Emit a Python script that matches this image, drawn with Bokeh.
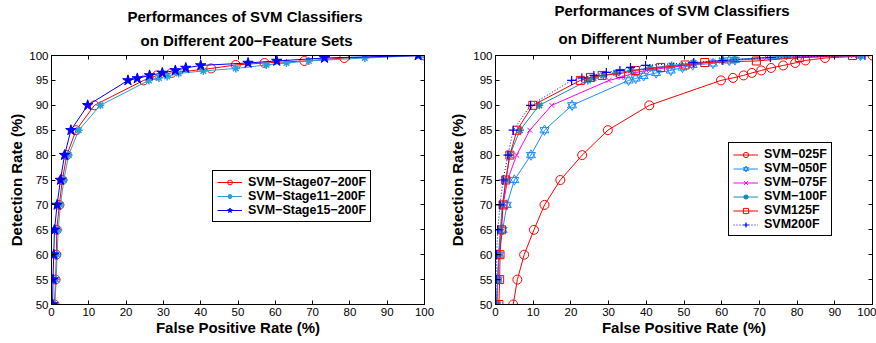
from bokeh.plotting import figure
from bokeh.models import Range1d, LinearAxis, FixedTicker, Legend, LegendItem, Title
from bokeh.layouts import row
from bokeh.embed import file_html
from bokeh.resources import INLINE

FONT = "Liberation Sans"

x_ticks = [0, 10, 20, 30, 40, 50, 60, 70, 80, 90, 100]
y_ticks = [50, 55, 60, 65, 70, 75, 80, 85, 90, 95, 100]

# ---- left chart data ----
s07_x = [0.8, 1.1, 1.3, 1.4, 2.1, 2.9, 4.1, 6.6, 11.5, 24.7, 28.3, 32.2, 42.8, 49.4, 57.1, 67.8, 78.5, 100]
s07_y = [50, 55, 60, 65, 70, 75, 80, 85, 90, 95, 96, 96.5, 97.4, 98.1, 98.5, 98.9, 99.5, 100]
s11_x = [0.9, 1.25, 1.5, 1.8, 2.4, 3.3, 4.6, 7.3, 13.1, 26.1, 28.8, 31.0, 34.1, 40.7, 49.4, 57.6, 63.0, 69.0, 84.0, 99.2]
s11_y = [50, 55, 60, 65, 70, 75, 80, 85, 90, 95, 95.5, 95.8, 96.4, 96.9, 97.4, 98.1, 98.5, 98.9, 99.5, 100]
s15_x = [0.3, 0.4, 0.6, 0.8, 1.5, 2.4, 3.5, 5.2, 9.7, 20.5, 23.0, 26.3, 29.7, 33.2, 36.0, 40.0, 52.7, 60.4, 73.2, 98.3]
s15_y = [50, 55, 60, 65, 70, 75, 80, 85, 90, 95, 95.4, 96, 96.5, 97, 97.5, 98, 98.5, 98.9, 99.5, 100]

# ---- right chart data ----
f025_x = [4.7, 5.8, 7.6, 10.2, 13.0, 17.2, 23.0, 29.8, 40.8, 59.8, 63.0, 65.8, 68.0, 70.5, 73.1, 76.3, 79.5, 82.2, 87.4, 100]
f025_y = [50, 55, 60, 65, 70, 75, 80, 85, 90, 95, 95.5, 96, 96.5, 97, 97.5, 98, 98.5, 99.0, 99.5, 100]
f050_x = [0.3, 0.6, 0.9, 1.9, 3.0, 5.0, 9.4, 13.0, 20.3, 35.3, 37.2, 39.3, 42.6, 46.5, 49.6, 52.3, 57.7, 62.0, 63.5, 96.8]
f050_y = [50, 55, 60, 65, 70, 75, 80, 85, 90, 95, 95.4, 95.9, 96.5, 97, 97.6, 98.1, 98.4, 99, 99.1, 100]
f075_x = [0.35, 0.6, 0.9, 1.4, 2.0, 3.2, 5.6, 9.1, 14.9, 30.1, 33.3, 36.7, 40.0, 46.0, 52.0, 57.7, 71.9, 95.0]
f075_y = [50, 55, 60, 65, 70, 75, 80, 85, 90, 95, 95.6, 96.5, 97, 97.6, 98.1, 98.8, 99.6, 100]
f100_x = [0.3, 0.6, 0.8, 1.3, 1.8, 2.8, 3.8, 6.5, 11.6, 24.5, 26.0, 28.6, 32.0, 36.0, 41.0, 46.7, 52.5, 60.0, 63.5, 77.2, 96.8]
f100_y = [50, 55, 60, 65, 70, 75, 80, 85, 90, 95, 95.5, 96, 96.5, 97, 97.5, 98, 98.5, 99, 99.2, 99.9, 100]
f125_x = [0.9, 1.1, 1.2, 1.6, 2.0, 2.7, 3.8, 5.7, 9.9, 22.5, 25.2, 28.3, 33.2, 37.1, 43.8, 50.3, 55.5, 69.2, 80.6, 94.7]
f125_y = [50, 55, 60, 65, 70, 75, 80, 85, 90, 95, 95.6, 96, 96.4, 97, 97.6, 98.1, 98.6, 98.9, 99.6, 100]
f200_x = [0.1, 0.2, 0.3, 0.6, 1.2, 2.0, 3.3, 4.7, 9.3, 20.2, 22.9, 26.1, 29.4, 33.0, 35.8, 39.8, 52.6, 60.3, 72.9, 98.0]
f200_y = [50, 55, 60, 65, 70, 75, 80, 85, 90, 95, 95.5, 96, 96.6, 97, 97.6, 98, 98.6, 99, 99.6, 100]

left_title = ["Performances of SVM Classifiers", "on Different 200\u2212Feature Sets"]
right_title = ["Performances of SVM Classifiers", "on Different Number of Features"]
x_label = "False Positive Rate (%)"
y_label = "Detection Rate (%)"

H = 343


def style_axis(ax, ticks, show_labels=True):
    ax.ticker = FixedTicker(ticks=ticks)
    ax.major_tick_in = 4
    ax.major_tick_out = 0
    ax.minor_tick_line_color = None
    ax.axis_line_color = "black"
    ax.major_tick_line_color = "black"
    ax.major_label_text_font = FONT
    ax.major_label_text_color = "black"
    if show_labels:
        ax.major_label_text_font_size = "11.5px"
        ax.major_label_standoff = 3
    else:
        ax.major_label_text_font_size = "1px"
        ax.major_label_standoff = 0
        ax.major_label_overrides = {t: "" for t in ticks}


def make_fig(width, bl, br, bt, bb, ylab_standoff, title_lines, title_offsets, so2, so1):
    p = figure(width=width, height=H, output_backend="svg", toolbar_location=None,
               x_range=Range1d(0, 100), y_range=Range1d(50, 100),
               title_location=None,
               min_border_left=bl, min_border_right=br,
               min_border_top=bt, min_border_bottom=bb)
    p.xgrid.visible = False
    p.ygrid.visible = False
    p.outline_line_color = "black"
    p.outline_line_alpha = 1
    p.background_fill_color = "white"
    p.border_fill_color = "white"
    style_axis(p.xaxis[0], x_ticks)
    style_axis(p.yaxis[0], y_ticks)
    for ax in (p.xaxis[0], p.yaxis[0]):
        ax.axis_label_text_font = FONT
        ax.axis_label_text_font_size = "15px"
        ax.axis_label_text_font_style = "bold"
        ax.axis_label_text_color = "black"
    p.xaxis[0].axis_label = x_label
    p.yaxis[0].axis_label = y_label
    p.xaxis[0].axis_label_standoff = 0
    p.yaxis[0].axis_label_standoff = ylab_standoff
    top = LinearAxis()
    style_axis(top, x_ticks, show_labels=False)
    p.add_layout(top, "above")
    right = LinearAxis()
    style_axis(right, y_ticks, show_labels=False)
    p.add_layout(right, "right")
    # second title line first (closest to the frame), then the first line above it
    for txt, off, so in [(title_lines[1], title_offsets[1], so2),
                         (title_lines[0], title_offsets[0], so1)]:
        p.add_layout(Title(text=txt, align="left", offset=off, standoff=so,
                           vertical_align="top",
                           text_font=FONT, text_font_size="15px", text_font_style="bold",
                           text_color="black"), "above")
    return p


def make_legend(items, loc, lh):
    leg = Legend(items=items, location=loc)
    leg.border_line_color = "black"
    leg.border_line_width = 1
    leg.border_line_alpha = 1
    leg.label_text_font = FONT
    leg.label_text_font_size = "12.5px"
    leg.label_text_font_style = "bold"
    leg.label_text_color = "black"
    leg.glyph_width = 25
    leg.glyph_height = lh
    leg.label_height = lh
    leg.label_standoff = 6
    leg.spacing = 0
    leg.padding = 4
    leg.margin = 0
    leg.background_fill_alpha = 1
    return leg


# ---------- left ----------
p1 = make_fig(436, 51, 12, 55, 36, 1, left_title, [76, 89], 9, 2)
RED = "#FF0000"
CYAN = "#2E9FD2"
BLUE = "#0000FF"

l07 = p1.line(s07_x, s07_y, line_color=RED, line_width=1)
m07 = p1.scatter(s07_x, s07_y, marker="circle", size=9, line_color=RED, fill_alpha=0, line_width=1)
l11 = p1.line(s11_x, s11_y, line_color=CYAN, line_width=1)
m11 = p1.scatter(s11_x, s11_y, marker="asterisk", size=8, line_color=CYAN, line_width=1.5)
l15 = p1.line(s15_x, s15_y, line_color=BLUE, line_width=1)
m15 = p1.scatter(s15_x, s15_y, marker="star", size=11, line_color=BLUE, fill_color=BLUE, line_width=1)

leg1 = make_legend([
    LegendItem(label="SVM\u2212Stage07\u2212200F", renderers=[l07, m07]),
    LegendItem(label="SVM\u2212Stage11\u2212200F", renderers=[l11, m11]),
    LegendItem(label="SVM\u2212Stage15\u2212200F", renderers=[l15, m15]),
], (161, 82), 12)
p1.add_layout(leg1)

# ---------- right ----------
p2 = make_fig(440, 59, 4, 51, 39, 4, right_title, [59, 63], 14, 3)
C050 = "#1E8CFF"
MAG = "#FF00FF"
C100 = "#1A8ABB"

a1 = p2.line(f025_x, f025_y, line_color=RED, line_width=1)
a2 = p2.scatter(f025_x, f025_y, marker="circle", size=9, line_color=RED, fill_alpha=0, line_width=1)
b1 = p2.line(f050_x, f050_y, line_color=C050, line_width=1)
b2 = p2.scatter(f050_x, f050_y, marker="triangle", size=9, line_color=C050, fill_alpha=0, line_width=1)
b3 = p2.scatter(f050_x, f050_y, marker="inverted_triangle", size=9, line_color=C050, fill_alpha=0, line_width=1)
c1 = p2.line(f075_x, f075_y, line_color=MAG, line_width=1)
c2 = p2.scatter(f075_x, f075_y, marker="x", size=7, line_color=MAG, line_width=1)
d1 = p2.line(f100_x, f100_y, line_color=C100, line_width=1)
d2 = p2.scatter(f100_x, f100_y, marker="asterisk", size=8, line_color=C100, line_width=1.5)
e1 = p2.line(f125_x, f125_y, line_color=RED, line_width=1)
e2 = p2.scatter(f125_x, f125_y, marker="square", size=8, line_color=RED, fill_alpha=0, line_width=1)
g1 = p2.line(f200_x, f200_y, line_color=BLUE, line_width=1, line_dash="1 2")
g2 = p2.scatter(f200_x, f200_y, marker="cross", size=9, line_color=BLUE, line_width=1.2)

leg2 = make_legend([
    LegendItem(label="SVM\u2212025F", renderers=[a1, a2]),
    LegendItem(label="SVM\u2212050F", renderers=[b1, b2, b3]),
    LegendItem(label="SVM\u2212075F", renderers=[c1, c2]),
    LegendItem(label="SVM\u2212100F", renderers=[d1, d2]),
    LegendItem(label="SVM125F", renderers=[e1, e2]),
    LegendItem(label="SVM200F", renderers=[g1, g2]),
], (233, 68), 13)
p2.add_layout(leg2)

layout = row(p1, p2)
open("out.html", "w").write(file_html(layout, INLINE))
